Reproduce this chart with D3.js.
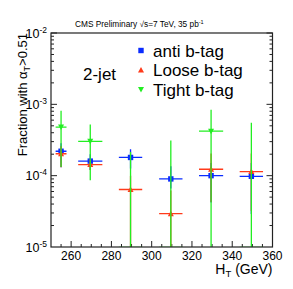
<!DOCTYPE html>
<html><head><meta charset="utf-8">
<script src="https://cdn.jsdelivr.net/npm/d3@7"></script>
<style>body{margin:0;background:#fff}svg{display:block}text{font-family:"Liberation Sans",Arial,sans-serif}</style>
</head><body><div id="c"></div>
<script>
// ---- data ----
const htBins = [255, 269.5, 289.5, 309.5, 329.5, 349.5];
const htErr = [2.7, 6, 5.8, 5.8, 6, 5.8];
const antiVal = [2.2e-4, 1.6e-4, 1.8e-4, 9.0e-5, 1.0e-4, 9.8e-5];
const antiHi  = [2.84e-4, 2.0e-4, 2.34e-4, 1.36e-4, 1.5e-4, 1.5e-4];
const antiLo  = [1.31e-4, 1.2e-4, 1.26e-4, 6.6e-5, 4.2e-5, 2.9e-5];
const looseVal = [2.03e-4, 1.43e-4, 6.4e-5, 2.93e-5, 1.23e-4, 1.14e-4];
const looseHi  = [2.6e-4, 1.7e-4, 1.0e-4, 6.2e-5, 2.04e-4, 2.04e-4];
const looseLo  = [1.31e-4, 1.2e-4, 0, 0, 4.27e-5, 3.2e-5];
const tightVal = [4.8e-4, 3.03e-4, 0, 0, 4.2e-4, 0];
const tightHi  = [8.1e-4, 5.2e-4, 2.15e-4, 3.1e-4, 8.4e-4, 5.5e-4];
const tightLo  = [1.32e-4, 8.6e-5, 0, 0, 0, 0];
const xTicks = [260, 280, 300, 320, 340, 360];
const yDecades = [-5, -4, -3, -2];
const seriesNames = ["anti b-tag", "Loose b-tag", "Tight b-tag"];
const seriesColors = ["#0a2cff", "#ff3a1a", "#22ee22"];

// ---- layout ----
const W = 293, H = 289;
const L = 51, R = 272.5, T = 33, B = 247;
const svg = d3.select("#c").append("svg").attr("width", W).attr("height", H);
const x = d3.scaleLinear().domain([250, 360]).range([L, R]);
const y = d3.scaleLog().domain([1e-5, 1e-2]).range([B, T]);

// ticks
const g = svg.append("g").attr("stroke", "#222").attr("stroke-width", 1);
d3.range(250, 361, 5).forEach(v => {
  const major = v % 20 === 0;
  if (v === 250 || v === 360) return;
  g.append("line").attr("x1", x(v)).attr("x2", x(v)).attr("y1", B).attr("y2", B - (major ? 6 : 3));
});
yDecades.forEach(d => {
  for (let m = 1; m <= 9; m++) {
    const v = m * Math.pow(10, d);
    if (v > 1e-2 || v <= 1e-5) continue;
    const len = m === 1 ? 6 : 3;
    g.append("line").attr("x1", L).attr("x2", L + len).attr("y1", y(v)).attr("y2", y(v));
    g.append("line").attr("x1", R).attr("x2", R - len).attr("y1", y(v)).attr("y2", y(v));
  }
});

// tick labels
xTicks.forEach(v => {
  svg.append("text").attr("x", x(v)).attr("y", 260).attr("text-anchor", "middle")
    .attr("font-size", 12).text(v);
});
yDecades.forEach(d => {
  const t = svg.append("text").attr("x", 47).attr("y", y(Math.pow(10, d)) + 4.5)
    .attr("text-anchor", "end").attr("font-size", 12.5);
  t.append("tspan").text("10");
  t.append("tspan").attr("font-size", 8.5).attr("dy", -5).text(d);
});

// axis titles
const xt = svg.append("text").attr("x", R).attr("y", 274).attr("text-anchor", "end").attr("font-size", 14);
xt.append("tspan").text("H");
xt.append("tspan").attr("font-size", 9.5).attr("dy", 3).text("T");
xt.append("tspan").attr("dy", -3).text(" (GeV)");

const yt = svg.append("text").attr("transform", `translate(27,${T}) rotate(-90)`)
  .attr("text-anchor", "end").attr("font-size", 13);
yt.append("tspan").text("Fraction with α");
yt.append("tspan").attr("font-size", 9).attr("dy", 3).text("T");
yt.append("tspan").attr("dy", -3).text(">0.51");

// title
const tt = svg.append("text").attr("x", 75).attr("y", 27).attr("font-size", 8.3);
tt.append("tspan").text("CMS Preliminary \u221As=7 TeV, 35 pb");
tt.append("tspan").attr("font-size", 5.5).attr("dy", -3).text("-1");

svg.append("text").attr("x", 83).attr("y", 80).attr("font-size", 17).text("2-jet");

// data
svg.append("clipPath").attr("id", "clip").append("rect")
  .attr("x", L).attr("y", T).attr("width", R - L).attr("height", B - T);
const plot = svg.append("g").attr("clip-path", "url(#clip)");

const series = [
  {vals: antiVal, hi: antiHi, lo: antiLo, color: seriesColors[0], shape: "sq"},
  {vals: looseVal, hi: looseHi, lo: looseLo, color: seriesColors[1], shape: "up"},
  {vals: tightVal, hi: tightHi, lo: tightLo, color: seriesColors[2], shape: "down"}
];
const yPos = v => v > 0 ? y(v) : B + 0.5;
function marker(sel, shape, cx, cy, color) {
  if (shape === "sq") {
    sel.append("rect").attr("x", cx - 2.7).attr("y", cy - 2.7).attr("width", 5.4).attr("height", 5.4).attr("fill", color);
  } else if (shape === "up") {
    sel.append("path").attr("d", `M${cx - 3},${cy + 2.5}L${cx + 3},${cy + 2.5}L${cx},${cy - 3}Z`).attr("fill", color);
  } else {
    sel.append("path").attr("d", `M${cx - 3},${cy - 2.5}L${cx + 3},${cy - 2.5}L${cx},${cy + 3}Z`).attr("fill", color);
  }
}
series.forEach(s => {
  htBins.forEach((h, i) => {
    const cx = x(h), cy = yPos(s.vals[i]);
    plot.append("line").attr("x1", x(h - htErr[i])).attr("x2", x(h + htErr[i]))
      .attr("y1", cy).attr("y2", cy).attr("stroke", s.color).attr("stroke-width", 1.3);
    plot.append("line").attr("x1", cx).attr("x2", cx)
      .attr("y1", yPos(s.lo[i])).attr("y2", y(s.hi[i])).attr("stroke", s.color).attr("stroke-width", 1.3);
    if (s.vals[i] > 0) marker(plot, s.shape, cx, cy, s.color);
  });
});

// frame
svg.append("rect").attr("x", L).attr("y", T).attr("width", R - L).attr("height", B - T)
  .attr("fill", "none").attr("stroke", "#222").attr("stroke-width", 1.2);

// legend
const legY = [56.5, 76, 95.5];
seriesNames.forEach((n, i) => {
  const sh = series[i].shape;
  marker(svg, sh, 141, legY[i] - 6, series[i].color);
  svg.append("text").attr("x", 153).attr("y", legY[i]).attr("font-size", 17).text(n);
});
</script></body></html>
